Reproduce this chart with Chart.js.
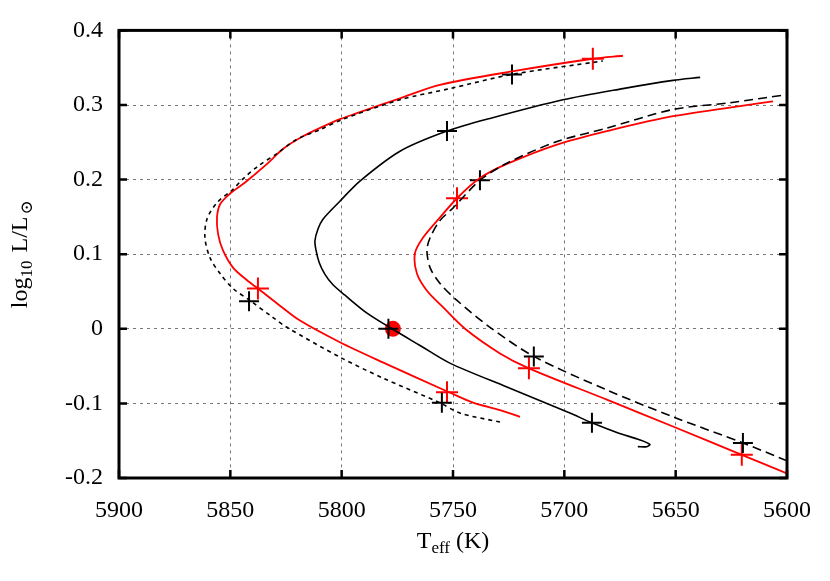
<!DOCTYPE html>
<html>
<head>
<meta charset="utf-8">
<title>HR tracks</title>
<script src="https://cdn.jsdelivr.net/npm/chart.js@4.4.0/dist/chart.umd.min.js"></script>
<style>
  html, body { margin: 0; padding: 0; background: #fff; }
</style>
</head>
<body>
<canvas id="hrChart" width="830" height="581"></canvas>
<script>
// --- data ---
const xTicks = [5900, 5850, 5800, 5750, 5700, 5650, 5600];
const xTickLabels = ['5900', '5850', '5800', '5750', '5700', '5650', '5600'];
const yTicks = [-0.2, -0.1, 0, 0.1, 0.2, 0.3, 0.4];
const yTickLabels = ['-0.2', '-0.1', '0', '0.1', '0.2', '0.3', '0.4'];

// middle black track (solid)
const midTeff = [5667, 5663, 5661.6, 5666, 5676.4, 5687.6, 5697.5, 5725.8, 5751.4, 5765, 5777.4, 5788.6, 5798.5, 5803.9, 5807.5, 5810.1, 5811.5, 5812, 5810.6, 5808.4, 5800.8, 5791.8, 5773.8, 5752.7, 5733.4, 5700.6, 5673.7, 5651.2, 5639];
const midLogL = [-0.158, -0.158, -0.155, -0.149, -0.139, -0.126, -0.113, -0.078, -0.046, -0.022, 0.0, 0.021, 0.045, 0.059, 0.073, 0.089, 0.105, 0.118, 0.134, 0.147, 0.171, 0.198, 0.238, 0.265, 0.282, 0.307, 0.322, 0.333, 0.337];

// left black track (short dashes)
const leftBlackTeff = [5728.9, 5746.9, 5756, 5781.5, 5800.8, 5824.6, 5830.8, 5841.2, 5848.8, 5854.6, 5859.1, 5861.4, 5860.5, 5856, 5848.8, 5844.3, 5837.6, 5829, 5820.1, 5809.7, 5799.4, 5773.8, 5751.4, 5723.5, 5682.7];
const leftBlackLogL = [-0.125, -0.113, -0.099, -0.066, -0.038, 0.002, 0.015, 0.038, 0.054, 0.074, 0.095, 0.122, 0.147, 0.169, 0.187, 0.201, 0.218, 0.235, 0.254, 0.267, 0.281, 0.307, 0.322, 0.341, 0.359];

// left red track
const leftRedTeff = [5719.9, 5728.9, 5741, 5751.8, 5781.5, 5800.8, 5818.7, 5829, 5837.6, 5842.5, 5848.8, 5853.3, 5855.5, 5856, 5854.6, 5850.2, 5844.3, 5839.8, 5833.5, 5826.4, 5817.4, 5808.4, 5800.8, 5793.1, 5773.8, 5755.9, 5723.5, 5687.2, 5673.7];
const leftRedLogL = [-0.118, -0.109, -0.099, -0.085, -0.045, -0.018, 0.011, 0.034, 0.054, 0.065, 0.082, 0.105, 0.127, 0.149, 0.167, 0.181, 0.194, 0.205, 0.221, 0.241, 0.258, 0.271, 0.281, 0.289, 0.309, 0.327, 0.345, 0.362, 0.366];

// right black track (long dashes)
const rightBlackTeff = [5600, 5619.8, 5651.2, 5680.9, 5713.7, 5733.4, 5748.2, 5755.9, 5760.3, 5761.7, 5760.3, 5755.9, 5750, 5737.9, 5725.8, 5703.3, 5680.9, 5651.2, 5625.6, 5600];
const rightBlackLogL = [-0.177, -0.153, -0.118, -0.082, -0.037, 0.002, 0.038, 0.061, 0.082, 0.105, 0.122, 0.145, 0.162, 0.199, 0.222, 0.251, 0.269, 0.294, 0.303, 0.314];

// right red track
const rightRedTeff = [5600, 5620.3, 5651.2, 5680.9, 5715.9, 5728.9, 5744.6, 5754.5, 5761.7, 5766.2, 5767.1, 5763.5, 5755.9, 5748.2, 5737.9, 5725.8, 5703.3, 5680.9, 5651.2, 5606.3];
const rightRedLogL = [-0.194, -0.169, -0.131, -0.095, -0.053, -0.033, 0.0, 0.029, 0.051, 0.074, 0.101, 0.122, 0.149, 0.175, 0.202, 0.221, 0.247, 0.265, 0.285, 0.305];

// + markers
const blackMarkTeff = [5752.7, 5779, 5687.6, 5723.5, 5841.6, 5755, 5737.9, 5713.7, 5619.8];
const blackMarkLogL = [0.265, 0.0, -0.126, 0.341, 0.037, -0.099, 0.199, -0.037, -0.153];
const redMarkTeff = [5687.2, 5837.6, 5752.7, 5748.2, 5715.9, 5620.3];
const redMarkLogL = [0.362, 0.054, -0.085, 0.175, -0.053, -0.169];

// the Sun
const sunTeff = [5777];
const sunLogL = [0.0];

const pairs = (xs, ys) => xs.map((x, i) => ({ x: x, y: ys[i] }));

const serif = "'Liberation Serif', 'DejaVu Serif', serif";

function track(xs, ys, color, dash, width) {
    return {
        type: 'line',
        data: pairs(xs, ys),
        borderColor: color,
        borderWidth: width,
        borderDash: dash,
        pointRadius: 0,
        tension: 0.3,
        fill: false
    };
}

function marks(xs, ys, color, style, radius) {
    return {
        type: 'scatter',
        data: pairs(xs, ys),
        pointStyle: style,
        pointRadius: radius,
        borderColor: color,
        backgroundColor: color,
        borderWidth: 2
    };
}

// frame with inward ticks on all four sides
const framePlugin = {
    id: 'frame',
    afterDatasetsDraw(chart) {
        const { ctx, chartArea: a, scales } = chart;
        ctx.save();
        ctx.strokeStyle = '#000';
        ctx.lineWidth = 2.5;
        xTicks.forEach(v => {
            const px = scales.x.getPixelForValue(v);
            ctx.beginPath();
            ctx.moveTo(px, a.bottom); ctx.lineTo(px, a.bottom - 8);
            ctx.moveTo(px, a.top); ctx.lineTo(px, a.top + 8);
            ctx.stroke();
        });
        yTicks.forEach(v => {
            const py = scales.y.getPixelForValue(v);
            ctx.beginPath();
            ctx.moveTo(a.left, py); ctx.lineTo(a.left + 8, py);
            ctx.moveTo(a.right, py); ctx.lineTo(a.right - 8, py);
            ctx.stroke();
        });
        ctx.lineWidth = 3;
        ctx.strokeRect(a.left, a.top, a.right - a.left, a.bottom - a.top);
        ctx.restore();
    }
};

// axis titles with subscripts
const titlePlugin = {
    id: 'titles',
    afterDraw(chart) {
        const { ctx, chartArea: a } = chart;
        ctx.save();
        ctx.fillStyle = '#000';
        ctx.textBaseline = 'alphabetic';
        ctx.textAlign = 'left';

        // x title: T_eff (K)
        const big = '24px ' + serif, small = '17px ' + serif;
        ctx.font = big; const wT = ctx.measureText('T').width;
        ctx.font = small; const wE = ctx.measureText('eff').width;
        ctx.font = big; const wK = ctx.measureText(' (K)').width;
        const x0 = (a.left + a.right) / 2 - (wT + wE + wK) / 2;
        const by = 548;
        ctx.font = big; ctx.fillText('T', x0, by);
        ctx.font = small; ctx.fillText('eff', x0 + wT, by + 5);
        ctx.font = big; ctx.fillText(' (K)', x0 + wT + wE, by);

        // y title: log10 L/L_sun, rotated
        ctx.translate(27, (a.top + a.bottom) / 2);
        ctx.rotate(-Math.PI / 2);
        ctx.font = big; const w1 = ctx.measureText('log').width;
        ctx.font = small; const w2 = ctx.measureText('10').width;
        ctx.font = big; const w3 = ctx.measureText(' L/L').width;
        ctx.font = small; const w4 = ctx.measureText('\u2299').width;
        const s = -(w1 + w2 + w3 + w4 + 4) / 2;
        ctx.font = big; ctx.fillText('log', s, 0);
        ctx.font = small; ctx.fillText('10', s + w1, 5);
        ctx.font = big; ctx.fillText(' L/L', s + w1 + w2 + 2, 0);
        ctx.font = small; ctx.fillText('\u2299', s + w1 + w2 + w3 + 4, 5);
        ctx.restore();
    }
};

new Chart(document.getElementById('hrChart'), {
    data: {
        datasets: [
            track(leftBlackTeff, leftBlackLogL, '#000', [4, 4], 1.6),
            track(rightBlackTeff, rightBlackLogL, '#000', [9, 5], 1.6),
            track(midTeff, midLogL, '#000', [], 1.6),
            track(leftRedTeff, leftRedLogL, '#ff0000', [], 1.8),
            track(rightRedTeff, rightRedLogL, '#ff0000', [], 1.8),
            marks(blackMarkTeff, blackMarkLogL, '#000', 'cross', 10),
            marks(redMarkTeff, redMarkLogL, '#ff0000', 'cross', 11),
            marks(sunTeff, sunLogL, '#ff0000', 'circle', 7)
        ]
    },
    options: {
        responsive: false,
        animation: false,
        layout: { padding: { top: 28, right: 43, left: 0, bottom: 0 } },
        plugins: {
            legend: { display: false },
            tooltip: { enabled: false }
        },
        scales: {
            x: {
                type: 'linear',
                reverse: true,
                min: 5600,
                max: 5900,
                afterBuildTicks: scale => { scale.ticks = xTicks.map(v => ({ value: v })); },
                afterFit: scale => { scale.height = 103; },
                ticks: {
                    color: '#000',
                    font: { family: serif, size: 24 },
                    padding: 18,
                    maxRotation: 0,
                    callback: (v, i) => xTickLabels[i]
                },
                grid: { color: '#777', lineWidth: 1, drawTicks: false },
                border: { display: false, dash: [3, 4] }
            },
            y: {
                type: 'linear',
                min: -0.2,
                max: 0.4,
                afterBuildTicks: scale => { scale.ticks = yTicks.map(v => ({ value: v })); },
                afterFit: scale => { scale.width = 119; },
                ticks: {
                    color: '#000',
                    font: { family: serif, size: 24 },
                    padding: 16,
                    callback: (v, i) => yTickLabels[i]
                },
                grid: { color: '#777', lineWidth: 1, drawTicks: false },
                border: { display: false, dash: [3, 4] }
            }
        }
    },
    plugins: [framePlugin, titlePlugin]
});
</script>
</body>
</html>
